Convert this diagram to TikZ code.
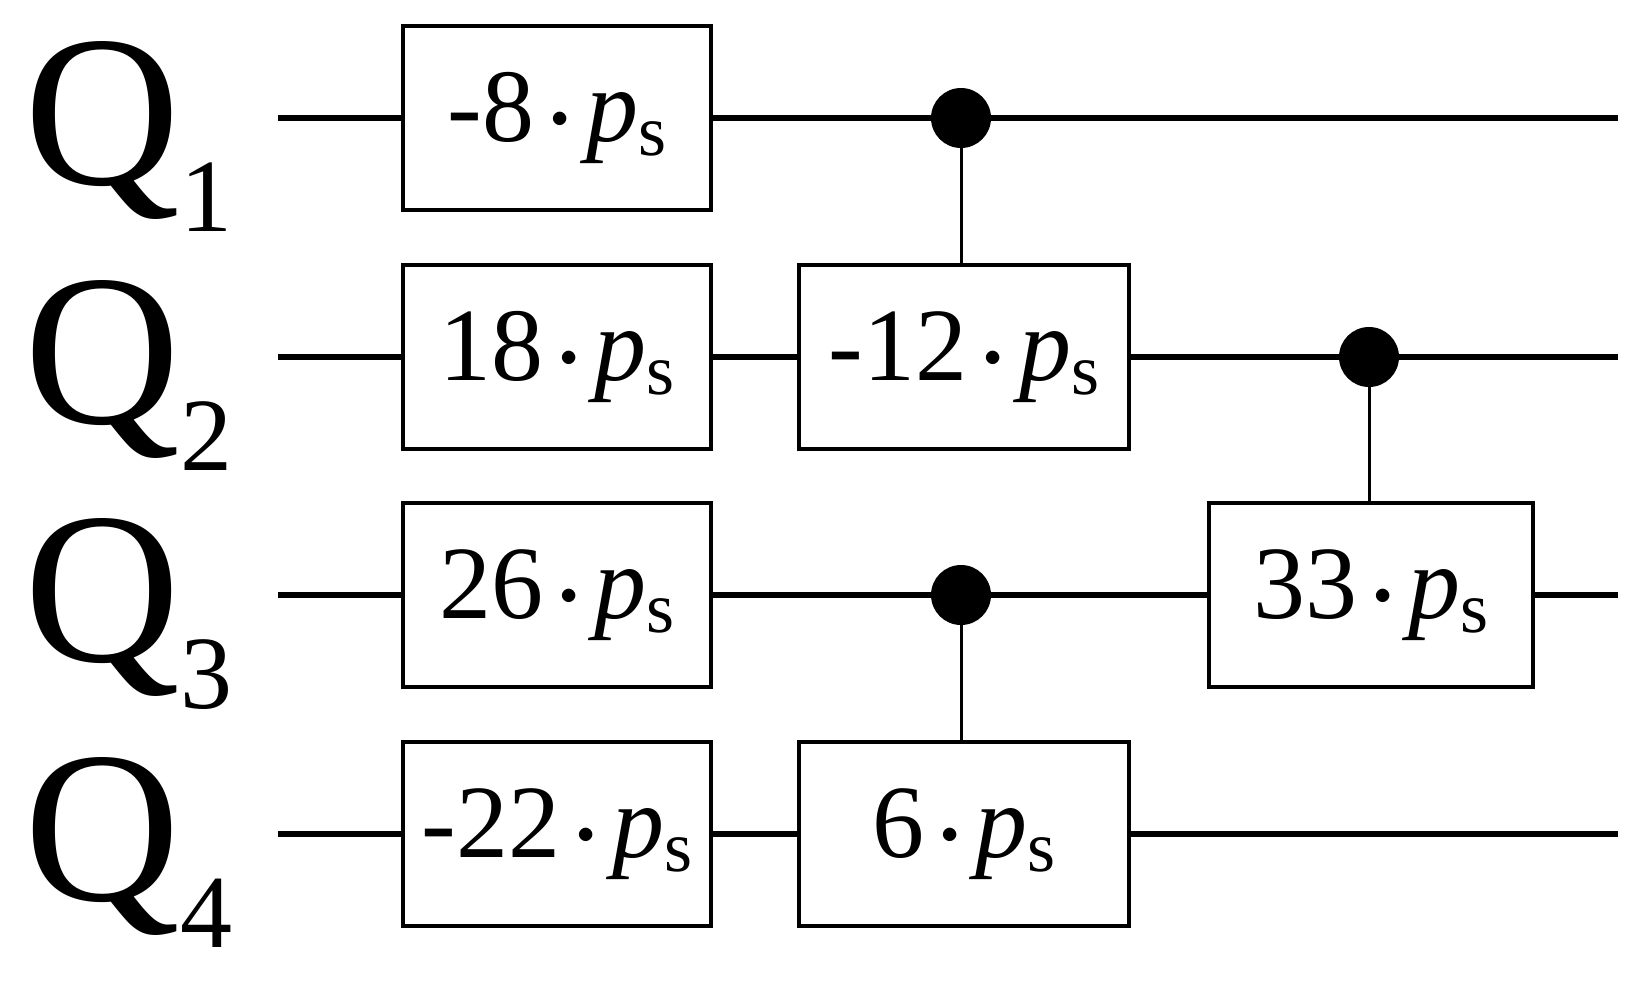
\documentclass[tikz,border=0pt]{standalone}
\usepackage{fontspec}
\setmainfont{Liberation Serif}
\begin{document}
\begin{tikzpicture}[x=0.5pt,y=-0.5pt,
  wire/.style={line width=2.6pt},
  gate/.style={draw,line width=1.8pt,fill=white,minimum width=154pt,minimum height=92pt,inner sep=0pt,font=\fontsize{52}{56}\selectfont},
  ctrl/.style={circle,fill=black,minimum size=30pt,inner sep=0pt},
  link/.style={line width=1.5pt},
  qlab/.style={anchor=base west,inner sep=0pt,font=\fontsize{108}{108}\selectfont}]
\useasboundingbox (0,0) rectangle (1647,996);
\foreach \i/\y in {1/118,2/357,3/595,4/834}{
  \coordinate (s\i) at (278,\y);
  \coordinate (e\i) at (1618,\y);
  \draw[wire] (s\i) -- (e\i);
  \node[qlab] (q\i) at (24,\y+66) {Q\raisebox{-0.22em}{\fontsize{52}{52}\selectfont\i}};
}
\newcommand{\ps}{\raisebox{0.3ex}{\fontsize{18}{18}\selectfont$\bullet$}\,\textit{p}\raisebox{-0.3ex}{\fontsize{36}{36}\selectfont s}}
\node[gate] (g1) at (557,118) {-8\,\ps};
\node[gate] (g2) at (557,357) {18\,\ps};
\node[gate] (g3) at (557,595) {26\,\ps};
\node[gate] (g4) at (557,834) {-22\,\ps};
\node[gate,minimum width=165pt] (g5) at (964,357) {-12\,\ps};
\node[gate,minimum width=165pt] (g6) at (964,834) {6\,\ps};
\node[gate,minimum width=162pt] (g7) at (1371,595) {33\,\ps};
\node[ctrl] (c1) at (961,118) {};
\node[ctrl] (c2) at (1369,357) {};
\node[ctrl] (c3) at (961,595) {};
\draw[link] (c1) -- (g5.north -| c1);
\draw[link] (c2) -- (g7.north -| c2);
\draw[link] (c3) -- (g6.north -| c3);
\end{tikzpicture}
\end{document}
